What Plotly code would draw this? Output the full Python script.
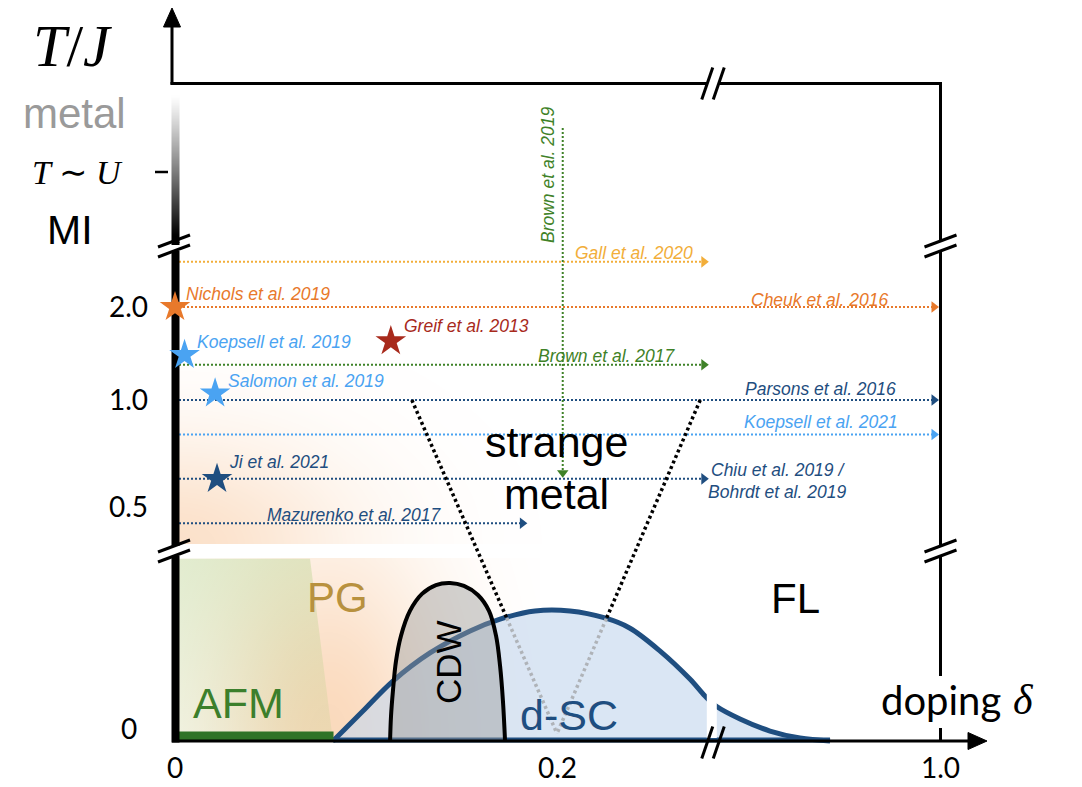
import numpy as np
import plotly.graph_objects as go

W, H = 1082, 787

# ---------------------------------------------------------------- data ----
# doping sweeps at fixed T/J (dotted arrows)
sweep_names = ["Gall et al. 2020", "Cheuk et al. 2016", "Brown et al. 2017",
               "Parsons et al. 2016", "Koepsell et al. 2021",
               "Chiu et al. 2019 /", "Mazurenko et al. 2017"]
sweep_T = [2.8, 2.0, 1.3, 1.0, 0.8, 0.6, 0.45]
sweep_dmax = [0.28, 1.0, 0.28, 1.0, 1.0, 0.28, 0.185]
sweep_colors = ["#F2AE3A", "#E8792B", "#3F8228", "#1F4E80", "#4AA3F2",
                "#1F4E80", "#1F4E80"]

# single (doping, T/J) measurements (stars)
point_names = ["Nichols et al. 2019", "Koepsell et al. 2019",
               "Salomon et al. 2019", "Greif et al. 2013", "Ji et al. 2021"]
point_doping = [0.0, 0.005, 0.021, 0.113, 0.022]
point_T = [2.0, 1.4, 1.05, 1.55, 0.6]
point_colors = ["#E8792B", "#4AA3F2", "#4AA3F2", "#A82A1C", "#1F4E80"]

# temperature sweep at fixed doping (vertical arrow)
tsweep_name = "Brown et al. 2019"
tsweep_doping = 0.203
tsweep_TU_top = 2.0      # T/U at the start of the sweep
tsweep_TJ_end = 0.6      # T/J at the end of the sweep

# schematic low-temperature phase diagram (T in panel units)
afm_doping_end = 0.083
afm_region_doping = [0.0, 0.0707, 0.0827, 0.0]
afm_region_T = [0.985, 0.985, 0.0, 0.0]

dsc_doping = [0.0827, 0.089, 0.0984, 0.1141, 0.1335, 0.1545, 0.1702, 0.1885,
              0.2068, 0.2251, 0.238, 0.254, 0.2696, 0.2775, 0.2994, 0.3745,
              0.4683, 0.5621, 0.656]
dsc_T = [0.0, 0.065, 0.162, 0.324, 0.476, 0.595, 0.659, 0.703, 0.703, 0.665,
         0.611, 0.486, 0.335, 0.243, 0.189, 0.119, 0.054, 0.016, 0.0]

cdw_doping = [0.1126, 0.1131, 0.1141, 0.1157, 0.1183, 0.123, 0.1293, 0.1366,
              0.144, 0.1513, 0.1586, 0.1644, 0.1681, 0.1702, 0.1717, 0.1728]
cdw_T = [0.0, 0.135, 0.27, 0.432, 0.568, 0.703, 0.795, 0.843, 0.854, 0.838,
         0.789, 0.703, 0.568, 0.405, 0.216, 0.0]

# strange-metal fan: from T/J = 1 down to the critical doping
fan_doping_top = [0.124, 0.275]
fan_TJ_top = 1.0
fan_doping_qcp = 0.2
fan_T_qcp = 0.04

# tick labels
x_tick_vals = [0.0, 0.2, 1.0]
x_tick_text = ["0", "0.2", "1.0"]
y_tick_vals = [0.5, 1.0, 2.0]
y_tick_text = ["0.5", "1.0", "2.0"]
tu_tick_val = 1.0

# ------------------------------------------------------- broken axes -------
X_ZERO, X_SCALE = 175.0, 1910.0       # doping 0 and px per unit doping
D_BREAK = 0.28                         # doping where the x axis is broken
X_BREAK = X_ZERO + D_BREAK * X_SCALE
X_ONE = 940.0                          # position of doping = 1


def x_of(d):
    d = np.asarray(d, float)
    return np.where(d <= D_BREAK, X_ZERO + d * X_SCALE,
                    X_BREAK + (d - D_BREAK) / (1 - D_BREAK) * (X_ONE - X_BREAK))


Y_ZERO, PD_SCALE = 741.0, 185.0        # low-T phase diagram panel


def y_pd(t):
    return Y_ZERO - PD_SCALE * np.asarray(t, float)


Y_TJ1, TJ_UP, TJ_DN = 400.0, 93.0, 107.0   # log2(T/J) panel


def y_tj(t):
    l = np.log2(np.asarray(t, float))
    return Y_TJ1 - np.where(l >= 0, TJ_UP, TJ_DN) * l


Y_TU1, TU_SCALE = 172.0, 44.0          # high-temperature (T/U) panel


def y_tu(t):
    return Y_TU1 - TU_SCALE * (np.asarray(t, float) - 1)


fig = go.Figure()


def glow(xc, yc, alpha, rgb):
    r, g, b = rgb
    return go.Heatmap(x=xc, y=yc, z=alpha, zmin=0, zmax=1, zsmooth="best",
                      colorscale=[[0, f"rgba({r},{g},{b},0)"],
                                  [1, f"rgba({r},{g},{b},1)"]],
                      showscale=False, hoverinfo="skip")


def seg(xs, ys, color="black", width=3, dash=None):
    fig.add_trace(go.Scatter(x=list(xs), y=list(ys), mode="lines",
                             line=dict(color=color, width=width, dash=dash),
                             hoverinfo="skip"))


def tri(xs, ys, color="black"):
    fig.add_trace(go.Scatter(x=list(xs), y=list(ys), mode="lines", fill="toself",
                             fillcolor=color, line=dict(color=color, width=1),
                             hoverinfo="skip"))


# ---------------------------------------------------- background haze ------
gx = np.arange(178.0, 640.0, 4.0)
gy = np.arange(362.0, 544.0, 4.0)
GX, GY = np.meshgrid(gx, gy)
fig.add_trace(glow(gx, gy, 0.46 * np.exp(-((GX - 176) / 175) ** 2
                                         - ((GY - 545) / 110) ** 2),
                   (247, 190, 140)))

bx = np.arange(178.0, 540.0, 4.0)
by = np.arange(560.0, 740.0, 4.0)
BX, BY = np.meshgrid(bx, by)
fig.add_trace(glow(bx, by, 0.58 * np.exp(-((BX - 328) / 115) ** 2
                                         - ((BY - 738) / 200) ** 2),
                   (247, 190, 140)))

# metal -> Mott insulator crossover along the T axis
bar_y = np.arange(94.0, 243.0, 2.0)
bar_z = (np.clip((bar_y - 95) / 140, 0, 1) ** 1.1)[:, None] * np.ones((1, 2))
fig.add_trace(go.Heatmap(x=[173.5, 177.5], y=bar_y, z=bar_z, zmin=0, zmax=1,
                         zsmooth="best", showscale=False, hoverinfo="skip",
                         colorscale=[[0, "rgb(255,255,255)"], [1, "rgb(0,0,0)"]]))

# AFM region
fig.add_trace(go.Scatter(
    x=x_of(afm_region_doping), y=y_pd(afm_region_T), mode="lines", fill="toself",
    line=dict(width=0),
    fillgradient=dict(type="vertical",
                      colorscale=[[0, "rgba(170,205,125,0.16)"],
                                  [1, "rgba(170,205,125,0.34)"]]),
    hoverinfo="skip"))

# ---------------------------------------------------- experiment sweeps ----
ARROW = 6.0
for T, dmax, c in zip(sweep_T, sweep_dmax, sweep_colors):
    yy = float(y_tj(T))
    xe = float(x_of(dmax))
    seg([X_ZERO, xe - ARROW], [yy, yy], color=c, width=2, dash="2px,2px")
    fig.add_trace(go.Scatter(x=[xe - ARROW], y=[yy], mode="markers",
                             marker=dict(symbol="triangle-right", size=10,
                                         color=c), hoverinfo="skip"))

xb = float(x_of(tsweep_doping))
yb0, yb1 = float(y_tu(tsweep_TU_top)), float(y_tj(tsweep_TJ_end))
seg([xb, xb], [yb0, yb1 - ARROW], color="#3F8228", width=2, dash="2px,2px")
fig.add_trace(go.Scatter(x=[xb], y=[yb1 - ARROW], mode="markers",
                         marker=dict(symbol="triangle-down", size=10,
                                     color="#3F8228"), hoverinfo="skip"))

# ------------------------------------------------------ phase diagram ------
dx, dy = x_of(dsc_doping), y_pd(dsc_T)
fig.add_trace(go.Scatter(x=dx, y=dy, mode="lines", line_shape="spline",
                         fill="toself", fillcolor="rgba(195,215,238,0.62)",
                         line=dict(color="#1F4E80", width=5), hoverinfo="skip"))
seg(x_of([dsc_doping[0], dsc_doping[-1]]), [Y_ZERO - 1, Y_ZERO - 1],
    color="#1F4E80", width=5)

# strange-metal fan lines, split where they enter the d-SC dome
fine_x = np.linspace(dx[0], dx[-1], 600)
fine_y = np.interp(fine_x, dx, dy)
fan_black, fan_grey = [], []
for d_top in fan_doping_top:
    p0 = np.array([float(x_of(d_top)), float(y_tj(fan_TJ_top))])
    p1 = np.array([float(x_of(fan_doping_qcp)), float(y_pd(fan_T_qcp))])
    s = np.linspace(0, 1, 800)
    lx = p0[0] + s * (p1[0] - p0[0])
    ly = p0[1] + s * (p1[1] - p0[1])
    inside = ly >= np.interp(lx, fine_x, fine_y)
    k = int(np.argmax(inside))
    fan_black.append(([p0[0], lx[k]], [p0[1], ly[k]]))
    fan_grey.append(([lx[k], p1[0]], [ly[k], p1[1]]))

for xs, ys in fan_grey:
    seg(xs, ys, color="#AFB3B8", width=3.5, dash="3px,3px")

fig.add_trace(go.Scatter(x=x_of(cdw_doping), y=y_pd(cdw_T), mode="lines",
                         line_shape="spline", fill="toself",
                         fillcolor="rgba(155,155,155,0.44)",
                         line=dict(color="black", width=4), hoverinfo="skip"))

for xs, ys in fan_black:
    seg(xs, ys, color="black", width=3.5, dash="3px,3px")

# AFM order at T = 0
seg(x_of([0, afm_doping_end]), [Y_ZERO - 5, Y_ZERO - 5], color="#2F7327", width=9)

# gap of the broken doping axis through the dome
fig.add_trace(go.Scatter(x=[X_BREAK - 3, X_BREAK + 7, X_BREAK + 7, X_BREAK - 3],
                         y=[672, 672, Y_ZERO - 3, Y_ZERO - 3], mode="lines",
                         fill="toself", fillcolor="white", line=dict(width=0),
                         hoverinfo="skip"))

# ------------------------------------------------------------- frame -------
XL = 175.5              # thick T axis
YB1, YB2 = 246.0, 551.0  # vertical breaks
XB = 713.0              # horizontal break


def vslashes(xa, yc):
    for k in (-1, 1):
        seg([xa - 16, xa + 16], [yc + 5 * k + 6, yc + 5 * k - 6], width=3)


def hslashes(xc, ya):
    for k in (-1, 1):
        seg([xc + 5.75 * k - 5.5, xc + 5.75 * k + 5.5], [ya + 16, ya - 16], width=3)


seg([XL, XL], [YB1 - 4, YB1 - 1], width=8)
seg([XL, XL], [YB1 + 5, YB2 - 5], width=8)
seg([XL, XL], [YB2 + 5, Y_ZERO + 1.5], width=8)
vslashes(XL - 1.5, YB1)
vslashes(XL - 1.5, YB2)

seg([172, 172], [25, 84.5], width=3)
tri([172, 163.5, 180.5, 172], [8, 27, 27, 8])
seg([170.5, XB - 5.5], [83.5, 83.5], width=3)
seg([XB + 6, 942], [83.5, 83.5], width=3)
hslashes(XB, 83.5)

XR = 940.5
seg([XR, XR], [83.5, YB1 - 5], width=3)
seg([XR, XR], [YB1 + 5, YB2 - 5], width=3)
seg([XR, XR], [YB2 + 5, 676], width=3)
seg([XR, XR], [728, Y_ZERO], width=3)
vslashes(XR, YB1)
vslashes(XR, YB2)

seg([172, 970], [Y_ZERO, Y_ZERO], width=3)
tri([987, 968, 968, 987], [Y_ZERO, 732.5, 749.5, Y_ZERO])
hslashes(XB, Y_ZERO + 1.5)

tu_y = float(y_tu(tu_tick_val))
seg([155, 168], [tu_y, tu_y], width=2.5)

# stars on top of everything
fig.add_trace(go.Scatter(x=x_of(point_doping), y=y_tj(point_T), mode="markers",
                         marker=dict(symbol="star", size=23, color=point_colors,
                                     line=dict(width=0)),
                         hoverinfo="skip"))

# ------------------------------------------------------------ labels -------
SANS = "Liberation Sans"
HUM = "Lato"
SERIF = "Liberation Serif"
ann = []


def txt(x, y, text, size, color="black", family=SANS, xanchor="center",
        angle=0, yanchor="middle"):
    ann.append(dict(x=x, y=y, xref="x", yref="y", text=text, showarrow=False,
                    xanchor=xanchor, yanchor=yanchor, textangle=angle,
                    font=dict(family=family, size=size, color=color)))


# experiment labels
txt(573, 253, "<i>Gall et al. 2020</i>", 17.5, "#F2AE3A", xanchor="left")
txt(890, 300, "<i>Cheuk et al. 2016</i>", 17.5, "#E8792B", xanchor="right")
txt(677, 356, "<i>Brown et al. 2017</i>", 17.5, "#3F8228", xanchor="right")
txt(898, 389, "<i>Parsons et al. 2016</i>", 17.5, "#1F4E80", xanchor="right")
txt(900, 422, "<i>Koepsell et al. 2021</i>", 17.5, "#4AA3F2", xanchor="right")
txt(709, 470, "<i>Chiu et al. 2019 /</i>", 17.5, "#1F4E80", xanchor="left")
txt(706, 492, "<i>Bohrdt et al. 2019</i>", 17.5, "#1F4E80", xanchor="left")
txt(265, 515, "<i>Mazurenko et al. 2017</i>", 17.5, "#1F4E80", xanchor="left")
txt(184, 294, "<i>Nichols et al. 2019</i>", 17.5, "#E8792B", xanchor="left")
txt(195, 342, "<i>Koepsell et al. 2019</i>", 17.5, "#4AA3F2", xanchor="left")
txt(226, 381, "<i>Salomon et al. 2019</i>", 17.5, "#4AA3F2", xanchor="left")
txt(402, 326, "<i>Greif et al. 2013</i>", 17.5, "#A82A1C", xanchor="left")
txt(227, 462, "<i>Ji et al. 2021</i>", 17.5, "#1F4E80", xanchor="left")
txt(548, 175, "<i>Brown et al. 2019</i>", 17.5, "#3F8228", angle=-90)

# phase labels
txt(556, 442, "strange", 43)
txt(556, 494, "metal", 43)
txt(795, 598, "FL", 42)
txt(337, 597, "PG", 42, "#B8913E")
txt(238, 703, "AFM", 43, "#3C7F2C")
txt(569, 715, "d-SC", 43, "#1F4E80")
txt(448, 662, "CDW", 35, angle=-90)

# axis titles and ticks
txt(72, 46, "<i>T</i>/<i>J</i>", 60, family=SERIF)
txt(74, 113, "metal", 42, "#9A9A9A")
txt(77, tu_y, "<i>T</i> ∼ <i>U</i>", 34, family=SERIF)
txt(70, 230, "MI", 41)
txt(941, 700, "doping", 40, family=HUM)
txt(1023, 700, "<i>δ</i>", 42, family=SERIF)

for v, t in zip(y_tick_vals, y_tick_text):
    txt(128, float(y_tj(v)) - 1, t, 28, family=HUM)
txt(129, Y_ZERO - 13, "0", 28, family=HUM)
for v, t in zip(x_tick_vals, x_tick_text):
    txt(float(x_of(v)), 786, t, 28, family=HUM, yanchor="bottom")

fig.update_layout(
    width=W, height=H, margin=dict(l=0, r=0, t=0, b=0),
    paper_bgcolor="white", plot_bgcolor="white", showlegend=False,
    xaxis=dict(range=[0, W], visible=False, fixedrange=True),
    yaxis=dict(range=[H, 0], visible=False, fixedrange=True),
    annotations=ann,
)

fig.write_html("out.html")
